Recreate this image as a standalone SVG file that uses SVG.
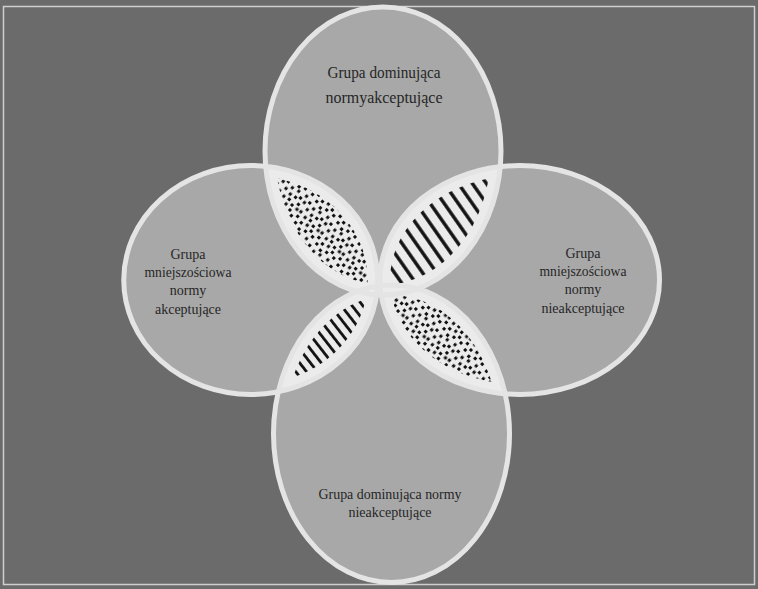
<svg xmlns="http://www.w3.org/2000/svg" width="758" height="589" viewBox="0 0 758 589">
<style>
.fill{fill:#a8a8a8;stroke:none}
.outline{fill:none;stroke:#e4e4e4;stroke-width:5}
.lens{fill:#ebebeb}
.lbl{font-family:"Liberation Serif","Times New Roman",serif;fill:#262626;text-anchor:middle}
.s14{font-size:14px}
.s16{font-size:16px}
</style>
<defs>
<clipPath id="cT"><ellipse cx="383" cy="151" rx="118" ry="144"/></clipPath>
<clipPath id="cL"><ellipse cx="250.75" cy="280" rx="127" ry="114.5"/></clipPath>
<clipPath id="cR"><ellipse cx="519.75" cy="280" rx="139.75" ry="114.5"/></clipPath>
<clipPath id="cB"><ellipse cx="391.5" cy="433.75" rx="118" ry="148.75"/></clipPath>
<clipPath id="iT"><ellipse cx="383" cy="151" rx="108" ry="134"/></clipPath>
<clipPath id="iL"><ellipse cx="250.75" cy="280" rx="117" ry="104.5"/></clipPath>
<clipPath id="iR"><ellipse cx="519.75" cy="280" rx="129.75" ry="104.5"/></clipPath>
<clipPath id="iB"><ellipse cx="391.5" cy="433.75" rx="108" ry="138.75"/></clipPath>
<pattern id="dots" width="30" height="30" patternUnits="userSpaceOnUse" patternTransform="rotate(45)">
<g fill="#111">
<rect x="2" y="1" width="3" height="3"/><rect x="9" y="3" width="3" height="3"/><rect x="15" y="0.5" width="3" height="3"/><rect x="22" y="2" width="3" height="3"/><rect x="27" y="5" width="3" height="3"/>
<rect x="5" y="7" width="3" height="3"/><rect x="12" y="9" width="3" height="3"/><rect x="18" y="6" width="3" height="3"/><rect x="24" y="10.5" width="3" height="3"/>
<rect x="1" y="13" width="3" height="3"/><rect x="8" y="14.5" width="3" height="3"/><rect x="15" y="12.5" width="3" height="3"/><rect x="21" y="16" width="3" height="3"/><rect x="27" y="16.5" width="3" height="3"/>
<rect x="4" y="19.5" width="3" height="3"/><rect x="11" y="20.5" width="3" height="3"/><rect x="17" y="19" width="3" height="3"/><rect x="24" y="22" width="3" height="3"/>
<rect x="1" y="25.5" width="3" height="3"/><rect x="8" y="26.5" width="3" height="3"/><rect x="14" y="25" width="3" height="3"/><rect x="20" y="27" width="3" height="3"/><rect x="26.5" y="26.5" width="3" height="3"/>
</g>
</pattern>
<pattern id="lines1" width="11.5" height="10" patternUnits="userSpaceOnUse" patternTransform="rotate(-35)">
<rect x="4" y="0" width="3.4" height="10" fill="#111"/>
</pattern>
<pattern id="lines2" width="8.5" height="8" patternUnits="userSpaceOnUse" patternTransform="rotate(-38)">
<rect x="2.8" y="0" width="2.8" height="8" fill="#111"/>
</pattern>
</defs>
<rect x="0" y="0" width="758" height="589" fill="#6b6b6b"/>
<rect x="3.5" y="6.5" width="751" height="578" fill="none" stroke="#cfcfcf" stroke-width="1.5"/>
<g id="node-top">
<ellipse class="fill" cx="383" cy="151" rx="118" ry="144"/>
<text class="lbl s16" x="384" y="78" textLength="113" lengthAdjust="spacingAndGlyphs">Grupa dominująca</text>
<text class="lbl s16" x="384" y="103" textLength="117" lengthAdjust="spacingAndGlyphs">normyakceptujące</text>
</g>
<g id="node-left">
<ellipse class="fill" cx="250.75" cy="280" rx="127" ry="114.5"/>
<text class="lbl s14" x="188" y="259">Grupa</text>
<text class="lbl s14" x="188" y="277" textLength="87" lengthAdjust="spacingAndGlyphs">mniejszościowa</text>
<text class="lbl s14" x="188" y="295">normy</text>
<text class="lbl s14" x="188" y="314">akceptujące</text>
</g>
<g id="node-right">
<ellipse class="fill" cx="519.75" cy="280" rx="139.75" ry="114.5"/>
<text class="lbl s14" x="583" y="258">Grupa</text>
<text class="lbl s14" x="583" y="276" textLength="87" lengthAdjust="spacingAndGlyphs">mniejszościowa</text>
<text class="lbl s14" x="583" y="294">normy</text>
<text class="lbl s14" x="583" y="313">nieakceptujące</text>
</g>
<g id="node-bottom">
<ellipse class="fill" cx="391.5" cy="433.75" rx="118" ry="148.75"/>
<text class="lbl s14" x="390" y="499" textLength="143" lengthAdjust="spacingAndGlyphs">Grupa dominująca normy</text>
<text class="lbl s14" x="390" y="517">nieakceptujące</text>
</g>
<g id="overlaps">
<g clip-path="url(#cT)"><rect class="lens" x="0" y="0" width="758" height="589" clip-path="url(#cL)"/></g>
<g clip-path="url(#cT)"><rect class="lens" x="0" y="0" width="758" height="589" clip-path="url(#cR)"/></g>
<g clip-path="url(#cB)"><rect class="lens" x="0" y="0" width="758" height="589" clip-path="url(#cL)"/></g>
<g clip-path="url(#cB)"><rect class="lens" x="0" y="0" width="758" height="589" clip-path="url(#cR)"/></g>
<g clip-path="url(#cB)"><rect class="lens" x="0" y="0" width="758" height="589" clip-path="url(#cT)"/></g>
<g clip-path="url(#iT)"><rect x="0" y="0" width="758" height="589" fill="url(#dots)" clip-path="url(#iL)"/></g>
<g clip-path="url(#iT)"><rect x="0" y="0" width="758" height="589" fill="url(#lines1)" clip-path="url(#iR)"/></g>
<g clip-path="url(#iB)"><rect x="0" y="0" width="758" height="589" fill="url(#lines2)" clip-path="url(#iL)"/></g>
<g clip-path="url(#iB)"><rect x="0" y="0" width="758" height="589" fill="url(#dots)" clip-path="url(#iR)"/></g>
</g>
<g id="outlines">
<ellipse class="outline" cx="383" cy="151" rx="118" ry="144"/>
<ellipse class="outline" cx="250.75" cy="280" rx="127" ry="114.5"/>
<ellipse class="outline" cx="519.75" cy="280" rx="139.75" ry="114.5"/>
<ellipse class="outline" cx="391.5" cy="433.75" rx="118" ry="148.75"/>
</g>
</svg>
